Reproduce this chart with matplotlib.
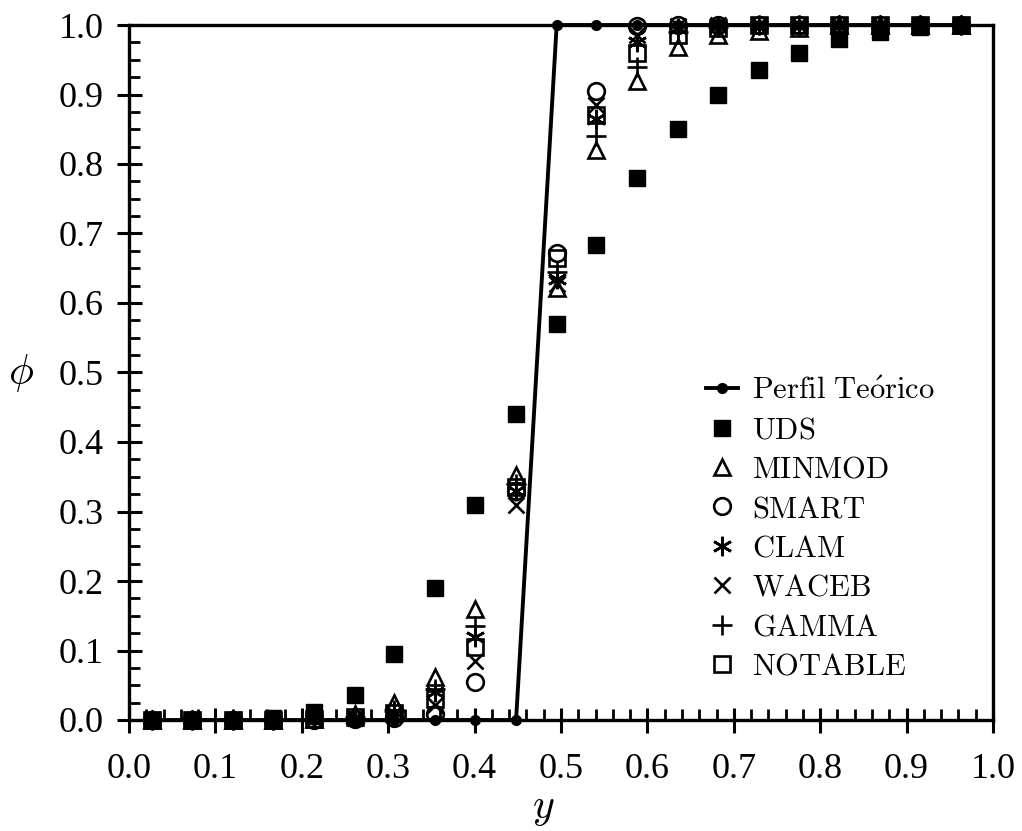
import matplotlib
matplotlib.use('Agg')
import matplotlib.pyplot as plt
from matplotlib.ticker import MultipleLocator

plt.rcParams['font.family'] = 'Liberation Serif'
plt.rcParams['mathtext.fontset'] = 'cm'

# cell centres
y_pos = [0.027, 0.073, 0.120, 0.167, 0.214, 0.261, 0.307, 0.354, 0.401, 0.448, 0.495,
         0.541, 0.588, 0.635, 0.682, 0.729, 0.775, 0.822, 0.869, 0.916, 0.963]

perfil = [0, 0, 0, 0, 0, 0, 0, 0, 0, 0, 1, 1, 1, 1, 1, 1, 1, 1, 1, 1, 1]
uds = [0.0, 0.0, 0.0, 0.003, 0.012, 0.036, 0.095, 0.19, 0.31, 0.44, 0.57,
       0.683, 0.78, 0.85, 0.90, 0.935, 0.96, 0.98, 0.99, 0.997, 1.0]
minmod = [0.0, 0.0, 0.0, 0.0, 0.002, 0.008, 0.025, 0.062, 0.16, 0.352, 0.622,
          0.82, 0.92, 0.968, 0.985, 0.992, 0.996, 1.0, 1.0, 1.0, 1.0]
smart = [0.0, 0.0, 0.0, 0.0, 0.0, 0.001, 0.003, 0.008, 0.055, 0.33, 0.672,
         0.905, 0.998, 1.0, 1.0, 1.0, 1.0, 1.0, 1.0, 1.0, 1.0]
clam = [0.0, 0.0, 0.0, 0.0, 0.001, 0.004, 0.012, 0.04, 0.12, 0.33, 0.635,
        0.865, 0.975, 0.995, 0.998, 1.0, 1.0, 1.0, 1.0, 1.0, 1.0]
waceb = [0.0, 0.0, 0.0, 0.0, 0.001, 0.003, 0.008, 0.022, 0.085, 0.31, 0.628,
         0.885, 0.985, 0.998, 1.0, 1.0, 1.0, 1.0, 1.0, 1.0, 1.0]
gamma = [0.0, 0.0, 0.0, 0.0, 0.001, 0.005, 0.015, 0.045, 0.135, 0.34, 0.645,
         0.84, 0.94, 0.99, 0.997, 1.0, 1.0, 1.0, 1.0, 1.0, 1.0]
notable = [0.0, 0.0, 0.0, 0.0, 0.001, 0.004, 0.01, 0.03, 0.105, 0.335, 0.665,
           0.87, 0.96, 0.985, 0.995, 1.0, 1.0, 1.0, 1.0, 1.0, 1.0]

fig = plt.figure(figsize=(10.22, 8.31), dpi=100)
ax = fig.add_axes([129/1022, 111/831, 864/1022, 695/831])

ms = 12
mew = 1.9
ax.plot(y_pos, perfil, '-', color='k', lw=2.8, marker='o', ms=7,
        clip_on=False, zorder=4, label=r'$\mathrm{Perfil\ Te\acute{o}rico}$')
ax.plot(y_pos, uds, ls='none', marker='s', ms=11.5, color='k', clip_on=False,
        label=r'$\mathrm{UDS}$')
ax.plot(y_pos, minmod, ls='none', marker='^', ms=ms, mfc='none', mec='k', mew=mew,
        clip_on=False, label=r'$\mathrm{MINMOD}$')
ax.plot(y_pos, smart, ls='none', marker='o', ms=ms, mfc='none', mec='k', mew=mew,
        clip_on=False, label=r'$\mathrm{SMART}$')
ax.plot(y_pos, clam, ls='none', marker=(6, 2, 0), ms=ms + 2, mec='k', mew=mew,
        clip_on=False, label=r'$\mathrm{CLAM}$')
ax.plot(y_pos, waceb, ls='none', marker='x', ms=ms, mec='k', mew=mew,
        clip_on=False, label=r'$\mathrm{WACEB}$')
ax.plot(y_pos, gamma, ls='none', marker='+', ms=ms + 3, mec='k', mew=mew,
        clip_on=False, label=r'$\mathrm{GAMMA}$')
ax.plot(y_pos, notable, ls='none', marker='s', ms=ms - 1, mfc='none', mec='k', mew=mew,
        clip_on=False, label=r'$\mathrm{NOTABLE}$')

ax.set_xlim(0, 1)
ax.set_ylim(0, 1)
ax.xaxis.set_major_locator(MultipleLocator(0.1))
ax.xaxis.set_minor_locator(MultipleLocator(0.02))
ax.yaxis.set_major_locator(MultipleLocator(0.1))
ax.yaxis.set_minor_locator(MultipleLocator(0.025))
ax.xaxis.set_major_formatter(plt.FormatStrFormatter('%.1f'))
ax.yaxis.set_major_formatter(plt.FormatStrFormatter('%.1f'))

ax.tick_params(which='major', direction='inout', length=18, width=2.2, labelsize=26)
ax.tick_params(which='minor', direction='in', length=8, width=2)
ax.tick_params(axis='x', which='major', pad=15)
ax.tick_params(axis='y', which='major', pad=9)
ax.tick_params(top=False, right=False, which='both')
for s in ax.spines.values():
    s.set_linewidth(2.4)

ax.text(0.48, -0.128, r'$y$', transform=ax.transAxes, fontsize=30,
        ha='center', va='center')
ax.text(-0.125, 0.5, r'$\phi$', transform=ax.transAxes, fontsize=30,
        ha='center', va='center')

ax.legend(loc='upper left', bbox_to_anchor=(0.668, 0.4935), frameon=False,
          fontsize=22, numpoints=1, handlelength=1.05, handletextpad=0.46,
          labelspacing=0.34, borderaxespad=0, borderpad=0)

fig.savefig('out.png', dpi=100)
